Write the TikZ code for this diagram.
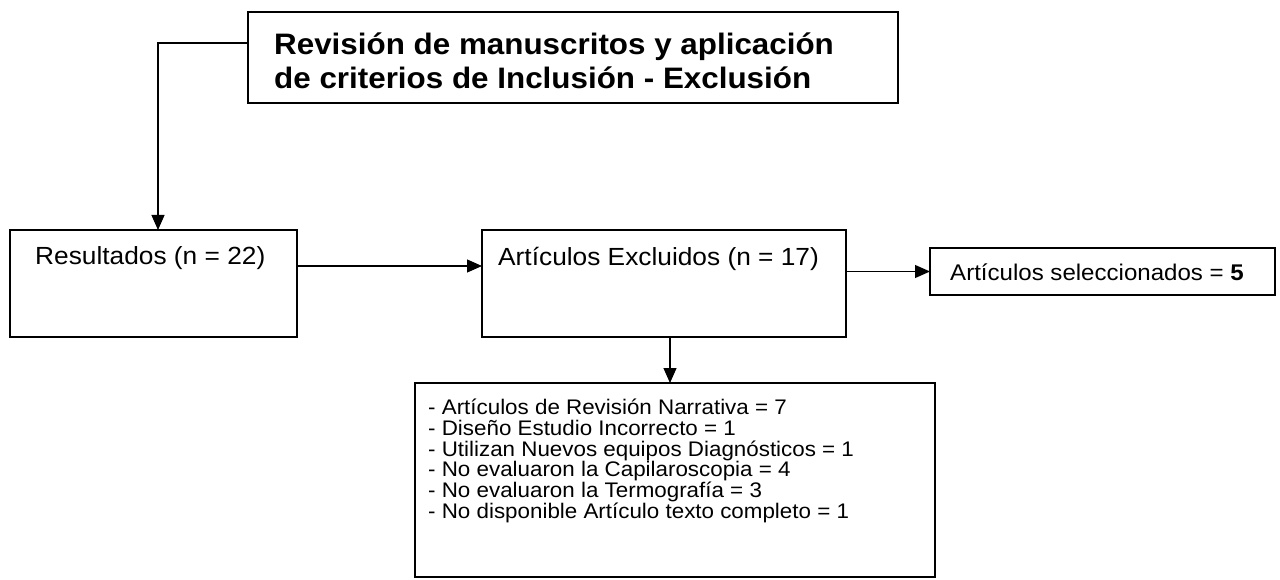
\documentclass[tikz,border=0pt]{standalone}
\usepackage{fontspec}
\setmainfont{Liberation Sans}[FakeStretch=1.06]
\usetikzlibrary{arrows.meta,calc}
\begin{document}
\begin{tikzpicture}[x=1pt,y=-1pt,
  box/.style={draw,line width=2pt,inner sep=0pt,outer sep=0pt,anchor=north west},
  arr/.style={-{Triangle[length=15pt,width=13pt]},line width=1.2pt},
  txt/.style={anchor=west,inner sep=0pt,align=left}]
\useasboundingbox (0,0) rectangle (1280,580);
% boxes
\node[box,minimum width=650pt,minimum height=91pt] (top) at (248,12) {};
\node[box,minimum width=287pt,minimum height=107pt] (res) at (10,230) {};
\node[box,minimum width=364pt,minimum height=107pt] (exc) at (482,230) {};
\node[box,minimum width=345pt,minimum height=47pt] (sel) at (930,248) {};
\node[box,minimum width=520pt,minimum height=194pt] (lst) at (415,383) {};
% texts
\node[txt,font=\fontsize{29.6}{34.5}\selectfont\bfseries] (toptxt) at (274,61)
  {Revisión de manuscritos y aplicación\\de criterios de Inclusión - Exclusión};
\node[txt,font=\fontsize{24.8}{28}\selectfont] (restxt) at (35,258.5) {Resultados (n = 22)};
\node[txt,font=\fontsize{24.8}{28}\selectfont] (exctxt) at (498,258.5) {Artículos Excluidos (n = 17)};
\node[txt,font=\fontsize{22.7}{26}\selectfont] (seltxt) at (950,272) {Artículos seleccionados = \textbf{5}};
\node[txt,anchor=north west,font=\fontsize{21.1}{20.7}\selectfont] (lsttxt) at (428,399)
  {- Artículos de Revisión Narrativa = 7\\
   - Diseño Estudio Incorrecto = 1\\
   - Utilizan Nuevos equipos Diagnósticos = 1\\
   - No evaluaron la Capilaroscopia = 4\\
   - No evaluaron la Termografía = 3\\
   - No disponible Artículo texto completo = 1};
% connectors
\coordinate (c1) at (158,43);
\coordinate (c2) at (297,266);
\coordinate (c3) at (670,337);
\draw[arr] (top.west |- c1) -- (c1) -- (res.north -| c1);
\draw[arr] (c2) -- (exc.west |- c2);
\draw[arr] (exc.east |- sel.west) -- (sel.west);
\draw[arr] (c3) -- (lst.north -| c3);
\end{tikzpicture}
\end{document}
